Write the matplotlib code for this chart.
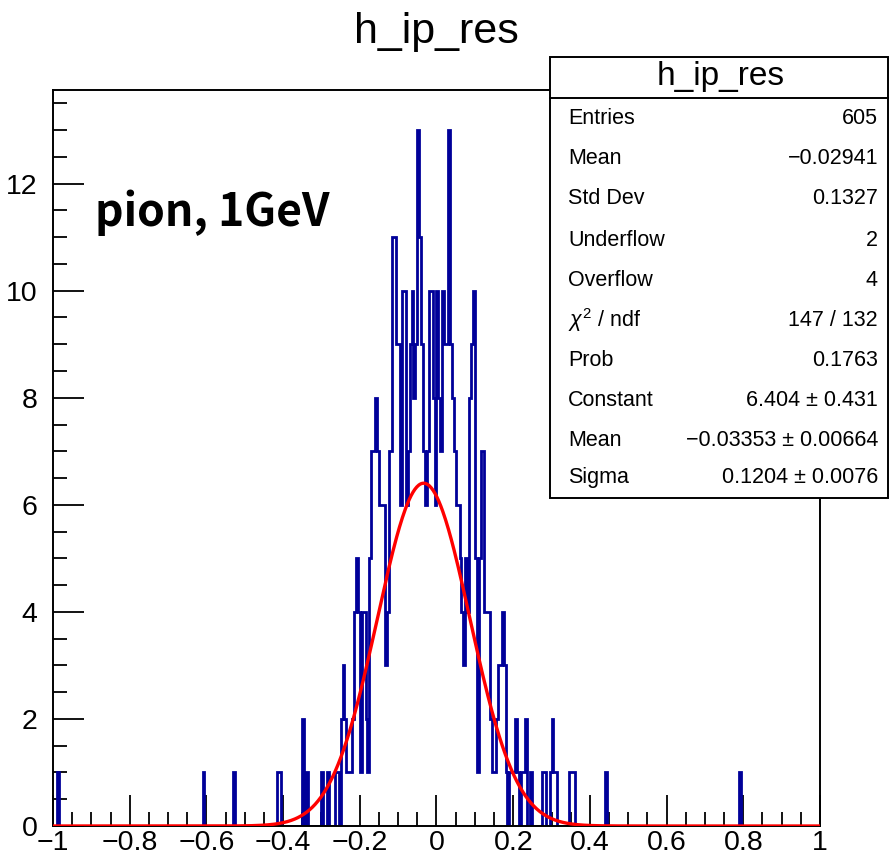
import numpy as np
import matplotlib.pyplot as plt
from matplotlib.patches import Rectangle
from matplotlib.lines import Line2D

# histogram h_ip_res: 400 bins on [-1, 1], only the filled bins are listed
n_bins = 400
x_lo, x_hi = -1.0, 1.0
bin_index = [2, 78, 94, 117, 118, 130, 132, 140, 143, 147, 148,
             150, 151, 152, 153, 154, 155, 156, 157, 158, 159, 160, 161, 162, 163, 164,
             165, 166, 167, 168, 169, 170, 171, 172, 173, 174, 175, 176,
             177, 178, 179, 180, 181, 182, 183, 184, 185, 186, 187, 188, 189, 190, 191, 192,
             193, 194, 195, 196, 197, 198, 199, 200, 201, 202, 203, 204, 205, 206, 207, 208,
             209, 210, 211, 212, 213, 214, 215, 216, 217, 218, 219, 220, 221, 222, 223, 224,
             225, 226, 227, 228, 229, 230, 231, 232, 233, 234, 235,
             236, 238, 239, 240, 241, 242, 244, 245, 246, 249, 255, 256, 259, 260, 261, 262,
             269, 270, 271, 288, 358]
bin_count = [1, 1, 1, 1, 1, 2, 1, 1, 1, 1, 1,
             2, 3, 2, 1, 1, 1, 2, 4, 5, 4, 1, 4, 4, 2, 1,
             5, 7, 7, 8, 7, 6, 6, 6, 3, 4, 7, 7,
             11, 11, 9, 9, 6, 10, 10, 6, 7, 9, 10, 8, 9, 13, 11, 9,
             7, 6, 7, 10, 10, 8, 6, 10, 8, 7, 10, 9, 9, 13, 9, 8,
             7, 6, 6, 5, 4, 3, 5, 4, 8, 9, 10, 5, 1, 5, 7, 7,
             4, 4, 4, 2, 1, 1, 2, 3, 3, 4, 3,
             1, 1, 1, 1, 2, 1, 1, 1, 2, 1, 1, 1, 1, 2, 1, 1,
             1, 1, 1, 1, 1]

# gaus fit parameters (from the stats box)
fit_const, fit_mean, fit_sigma = 6.404, -0.03353, 0.1204

x_ticks = [-1, -0.8, -0.6, -0.4, -0.2, 0, 0.2, 0.4, 0.6, 0.8, 1]
x_ticklabels = ['\u22121', '\u22120.8', '\u22120.6', '\u22120.4', '\u22120.2', '0',
                '0.2', '0.4', '0.6', '0.8', '1']
y_ticks = [0, 2, 4, 6, 8, 10, 12]

stat_labels = ['Entries', 'Mean', 'Std Dev', 'Underflow', 'Overflow',
               r'$\chi^{2}$ / ndf', 'Prob', 'Constant', 'Mean', 'Sigma']
stat_values = ['605', '\u22120.02941', '0.1327', '2', '4', '147 / 132', '0.1763',
               '6.404 \u00b1 0.431', '\u22120.03353 \u00b1 0.00664', '0.1204 \u00b1 0.0076']

plt.rcParams['font.family'] = ['Liberation Sans', 'DejaVu Sans']
plt.rcParams['mathtext.fontset'] = 'custom'
plt.rcParams['mathtext.rm'] = 'Liberation Sans'
plt.rcParams['mathtext.it'] = 'Liberation Sans:italic'

W, H = 890, 859
fig = plt.figure(figsize=(W / 100, H / 100), dpi=100)

def fx(px):
    return px / W

def fy(py):
    return 1 - py / H

ax = fig.add_axes([fx(53), fy(826), fx(820) - fx(53), fy(90) - fy(826)])

counts = np.zeros(n_bins)
counts[bin_index] = bin_count
edges = np.linspace(x_lo, x_hi, n_bins + 1)
ax.stairs(counts, edges, baseline=0, color='#000099', lw=2.0, zorder=2)

xf = np.linspace(x_lo, x_hi, 800)
yf = fit_const * np.exp(-0.5 * ((xf - fit_mean) / fit_sigma) ** 2)
ax.plot(xf, yf, color='red', lw=2.4, zorder=3)

ax.set_xlim(x_lo, x_hi)
ax.set_ylim(0, 13.75)
ax.set_xticks(x_ticks)
ax.set_xticklabels(x_ticklabels)
ax.set_xticks(np.arange(-1, 1.001, 0.05), minor=True)
ax.set_yticks(y_ticks)
ax.set_yticks(np.arange(0, 13.6, 0.5), minor=True)
ax.tick_params(which='both', direction='in', top=False, right=False, width=1.3,
               labelsize=20.5)
ax.tick_params(which='major', length=22)
ax.tick_params(which='minor', length=10)
ax.tick_params(axis='x', pad=3)
ax.tick_params(axis='y', pad=11)
for s in ax.spines.values():
    s.set_linewidth(1.4)

fig.text(fx(436), fy(32), 'h_ip_res', fontsize=31, ha='center', va='center')
fig.text(fx(95), fy(213), 'pion, 1GeV', fontsize=32, fontweight='bold',
         family=['Noto Sans CJK JP', 'DejaVu Sans'], ha='left', va='center')

# stats box
box = Rectangle((fx(550), fy(498)), fx(888) - fx(550), fy(57) - fy(498),
                transform=fig.transFigure, facecolor='white', edgecolor='black',
                lw=1.4, zorder=10)
fig.add_artist(box)
fig.add_artist(Line2D([fx(550), fx(888)], [fy(97.5), fy(97.5)],
                      transform=fig.transFigure, color='black', lw=1.4, zorder=11))
fig.text(fx(721), fy(77), 'h_ip_res', fontsize=24, ha='center', va='center', zorder=12)
row_y = [118, 158, 198, 240, 281, 320, 360, 400, 440, 478]
for lab, val, ry in zip(stat_labels, stat_values, row_y):
    fig.text(fx(568), fy(ry), lab, fontsize=15.5, ha='left', va='center', zorder=12)
    fig.text(fx(878), fy(ry), val, fontsize=15.5, ha='right', va='center', zorder=12)

fig.savefig('out.png', dpi=100)
